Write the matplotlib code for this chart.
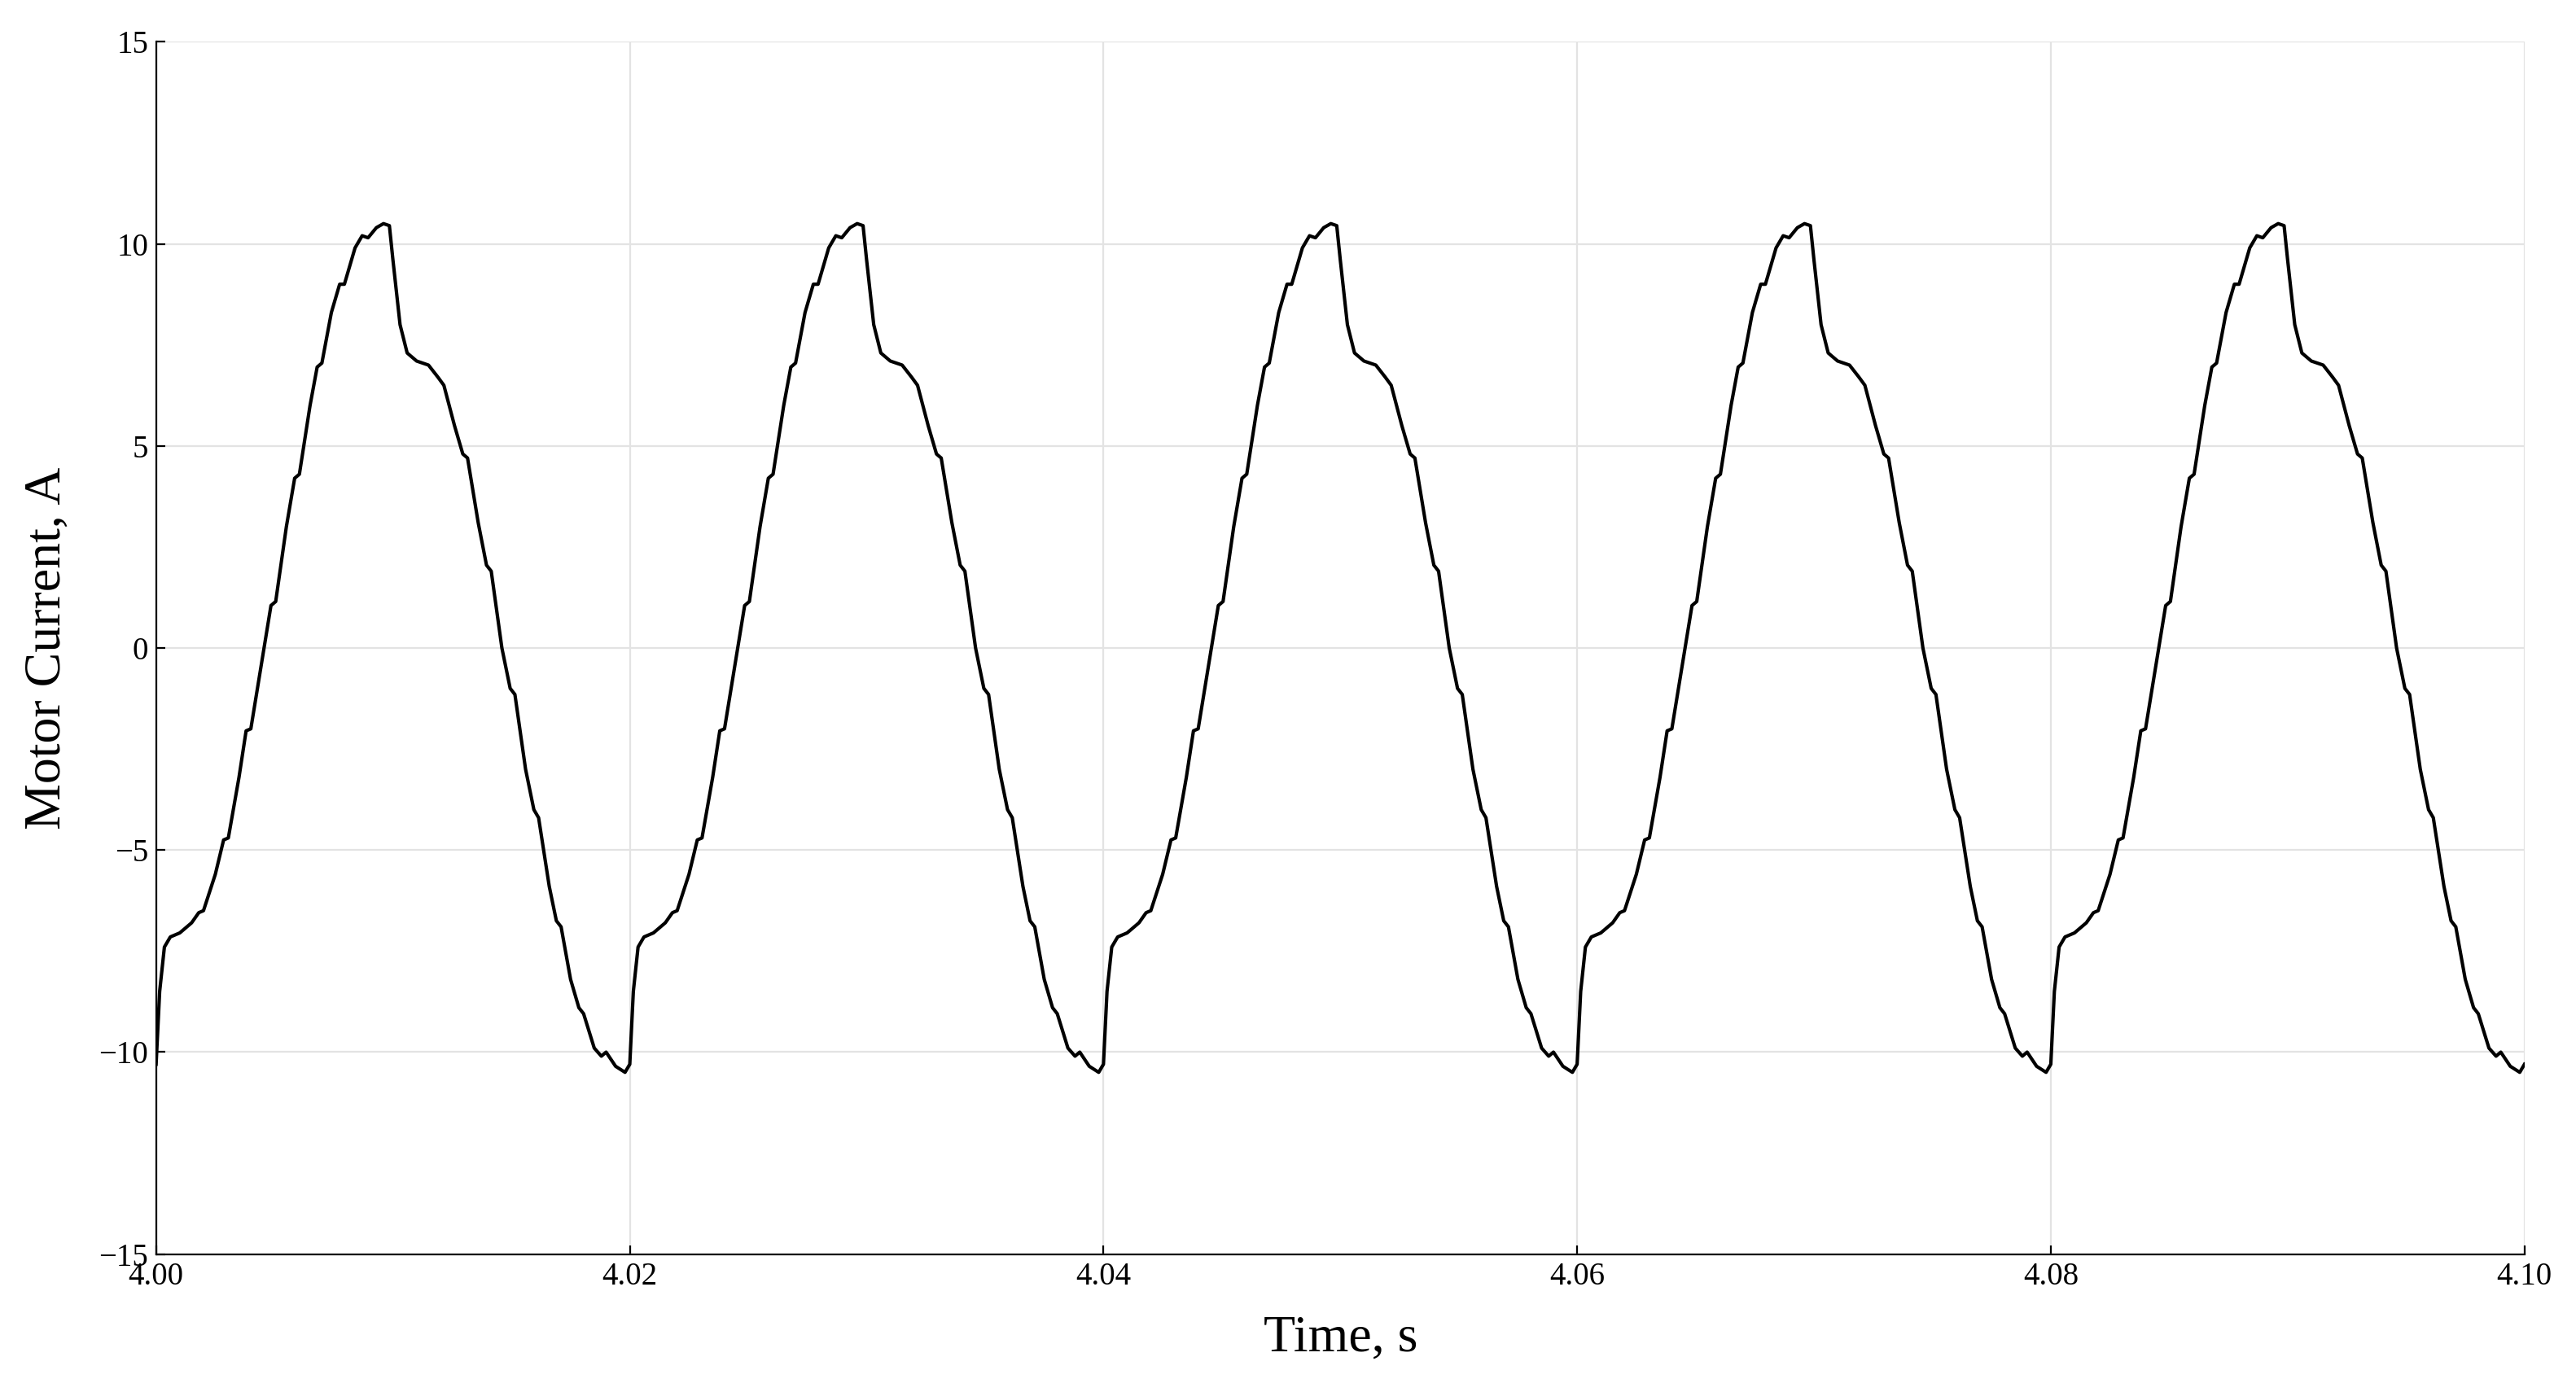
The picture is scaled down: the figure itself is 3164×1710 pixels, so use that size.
import numpy as np
import matplotlib
matplotlib.use("Agg")
import matplotlib.pyplot as plt

# one electrical period (ms offset, current A)
period_ms = [0, 0.15, 0.35, 0.6, 1.0, 1.5, 1.8, 2.0, 2.5, 2.85, 3.05, 3.5, 3.8, 4.0,
             4.5, 4.85, 5.05, 5.5, 5.85, 6.05, 6.5, 6.8, 7.0, 7.4, 7.75, 7.95, 8.4,
             8.7, 8.95, 9.3, 9.6, 9.85, 10.0, 10.3, 10.6, 11.0, 11.5, 11.9, 12.15,
             12.6, 12.95, 13.15, 13.6, 13.95, 14.15, 14.6, 14.95, 15.15, 15.6, 15.95,
             16.15, 16.6, 16.9, 17.1, 17.5, 17.85, 18.05, 18.5, 18.8, 19.0, 19.4, 19.8]
period_amp = [-10.3, -8.5, -7.4, -7.15, -7.05, -6.8, -6.55, -6.5, -5.6, -4.75, -4.7,
              -3.2, -2.05, -2.0, -0.2, 1.05, 1.15, 3.0, 4.2, 4.3, 6.0, 6.95, 7.05, 8.3,
              9.0, 9.0, 9.9, 10.2, 10.15, 10.4, 10.5, 10.45, 9.6, 8.0, 7.3, 7.1, 7.0,
              6.7, 6.5, 5.5, 4.8, 4.7, 3.1, 2.05, 1.9, 0.0, -1.0, -1.15, -3.0, -4.0,
              -4.2, -5.9, -6.75, -6.9, -8.2, -8.9, -9.05, -9.9, -10.1, -10.0, -10.35,
              -10.5]
n_periods = 5
t_start = 4.00
period_s = 0.02

t = []
i_m = []
for k in range(n_periods):
    for ms, a in zip(period_ms, period_amp):
        t.append(t_start + k * period_s + ms / 1000.0)
        i_m.append(a)
t.append(t_start + n_periods * period_s)
i_m.append(-10.3)

plt.rcParams['font.family'] = ['Liberation Serif', 'DejaVu Serif']
fig = plt.figure(figsize=(15.82, 8.55), dpi=200)
ax = fig.add_axes([0.0606, 0.099, 0.9194, 0.871])
ax.plot(t, i_m, color='black', linewidth=1.5)
ax.set_xlim(4.00, 4.10)
ax.set_ylim(-15, 15)
ax.set_xticks([4.00, 4.02, 4.04, 4.06, 4.08, 4.10])
ax.set_xticklabels(['4.00', '4.02', '4.04', '4.06', '4.08', '4.10'])
ax.set_yticks([-15, -10, -5, 0, 5, 10, 15])
ax.grid(True, color='#e3e3e3', linewidth=0.8)
ax.spines['top'].set_visible(False)
ax.spines['right'].set_visible(False)
ax.tick_params(direction='in', labelsize=14, length=4)
ax.set_xlabel('Time, s', fontsize=23, labelpad=10)
ax.set_ylabel('Motor Current, A', fontsize=23, labelpad=12)
fig.savefig('out.png', dpi=200)
